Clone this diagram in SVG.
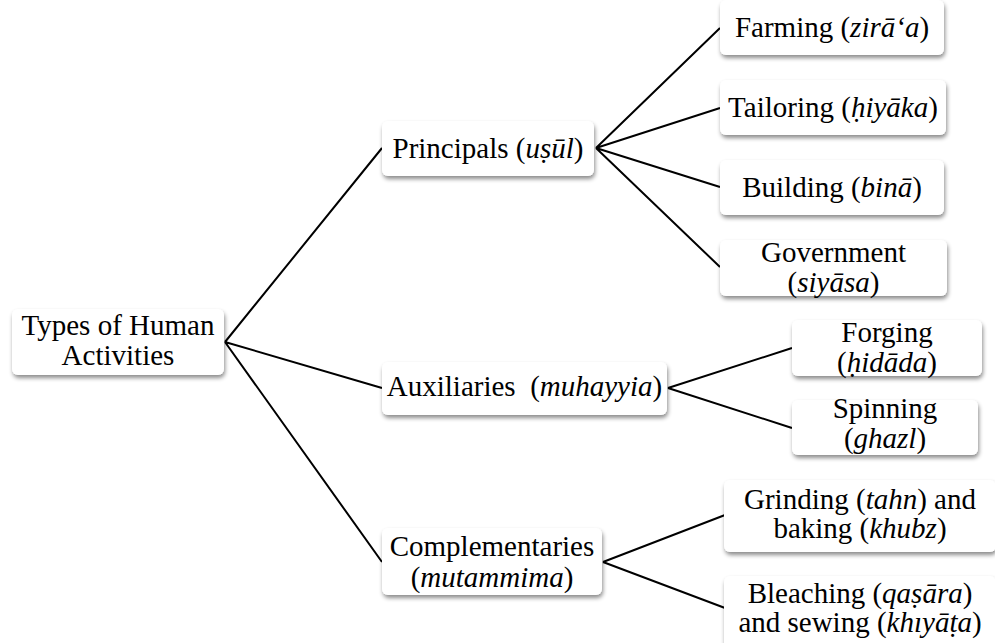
<svg xmlns="http://www.w3.org/2000/svg" width="995" height="643" viewBox="0 0 995 643">
  <defs>
    <filter id="shadow" x="-10%" y="-20%" width="120%" height="150%">
      <feDropShadow dx="1" dy="3" stdDeviation="2" flood-color="#000" flood-opacity="0.45"/>
    </filter>
  </defs>
  <style>
    .box { fill: #fff; filter: url(#shadow); }
    .lbl { font-family: 'Liberation Serif', serif; font-size: 29px; fill: #000; text-anchor: middle; }
    .it { font-style: italic; }
    .edge { stroke: #000; stroke-width: 2; fill: none; }
  </style>
  <rect width="995" height="643" fill="#fff"/>

  <!-- connectors -->
  <g id="connectors">
    <path class="edge" d="M225,342 L382,148 M225,342 L382,388 M225,342 L382,562"/>
    <path class="edge" d="M596,148 L720,28 M596,148 L720,108 M596,148 L720,187 M596,148 L720,267"/>
    <path class="edge" d="M668,388 L792,348 M668,388 L792,428"/>
    <path class="edge" d="M603,562 L725,515 M603,562 L725,608"/>
  </g>

  <g font-family="Liberation Serif, serif">
  <!-- root -->
  <g id="root">
    <rect class="box" x="12" y="309" width="212" height="66" rx="6"/>
    <text class="lbl" x="118" y="335">Types of Human</text>
    <text class="lbl" x="118" y="365">Activities</text>
  </g>

  <!-- second level -->
  <g id="principals">
    <rect class="box" x="382" y="121" width="212" height="55" rx="6"/>
    <text class="lbl" x="488" y="158">Principals (<tspan class="it">uṣūl</tspan>)</text>
  </g>
  <g id="auxiliaries">
    <rect class="box" x="382" y="362" width="285" height="53" rx="6"/>
    <text class="lbl" x="524.5" y="396" xml:space="preserve">Auxiliaries  (<tspan class="it">muhayyia</tspan>)</text>
  </g>
  <g id="complementaries">
    <rect class="box" x="382" y="528" width="220" height="67" rx="6"/>
    <text class="lbl" x="492" y="556">Complementaries</text>
    <text class="lbl" x="492" y="587">(<tspan class="it">mutammima</tspan>)</text>
  </g>

  <!-- principal activities -->
  <g id="farming">
    <rect class="box" x="720" y="0" width="224" height="55" rx="6"/>
    <text class="lbl" x="832" y="37">Farming (<tspan class="it">zirā‘a</tspan>)</text>
  </g>
  <g id="tailoring">
    <rect class="box" x="720" y="80" width="226" height="55" rx="6"/>
    <text class="lbl" x="833" y="117">Tailoring (<tspan class="it">ḥiyāka</tspan>)</text>
  </g>
  <g id="building">
    <rect class="box" x="720" y="160" width="224" height="55" rx="6"/>
    <text class="lbl" x="832" y="197">Building (<tspan class="it">binā</tspan>)</text>
  </g>
  <g id="government">
    <rect class="box" x="720" y="240" width="227" height="56" rx="6"/>
    <text class="lbl" x="833.5" y="262">Government</text>
    <text class="lbl" x="833.5" y="292">(<tspan class="it">siyāsa</tspan>)</text>
  </g>

  <!-- auxiliary activities -->
  <g id="forging">
    <rect class="box" x="792" y="320" width="190" height="56" rx="6"/>
    <text class="lbl" x="887" y="342">Forging</text>
    <text class="lbl" x="887" y="372">(<tspan class="it">ḥidāda</tspan>)</text>
  </g>
  <g id="spinning">
    <rect class="box" x="792" y="400" width="186" height="55" rx="6"/>
    <text class="lbl" x="885" y="418">Spinning</text>
    <text class="lbl" x="885" y="448">(<tspan class="it">ghazl</tspan>)</text>
  </g>

  <!-- complementary activities -->
  <g id="grinding">
    <rect class="box" x="724" y="480" width="272" height="72" rx="6"/>
    <text class="lbl" x="860" y="509">Grinding (<tspan class="it">tahn</tspan>) and</text>
    <text class="lbl" x="860" y="538">baking (<tspan class="it">khubz</tspan>)</text>
  </g>
  <g id="bleaching">
    <rect class="box" x="724" y="576" width="272" height="76" rx="6"/>
    <text class="lbl" x="860" y="603">Bleaching (<tspan class="it">qaṣāra</tspan>)</text>
    <text class="lbl" x="860" y="632">and sewing (<tspan class="it">khıyāṭa</tspan>)</text>
  </g>
  </g>
</svg>
